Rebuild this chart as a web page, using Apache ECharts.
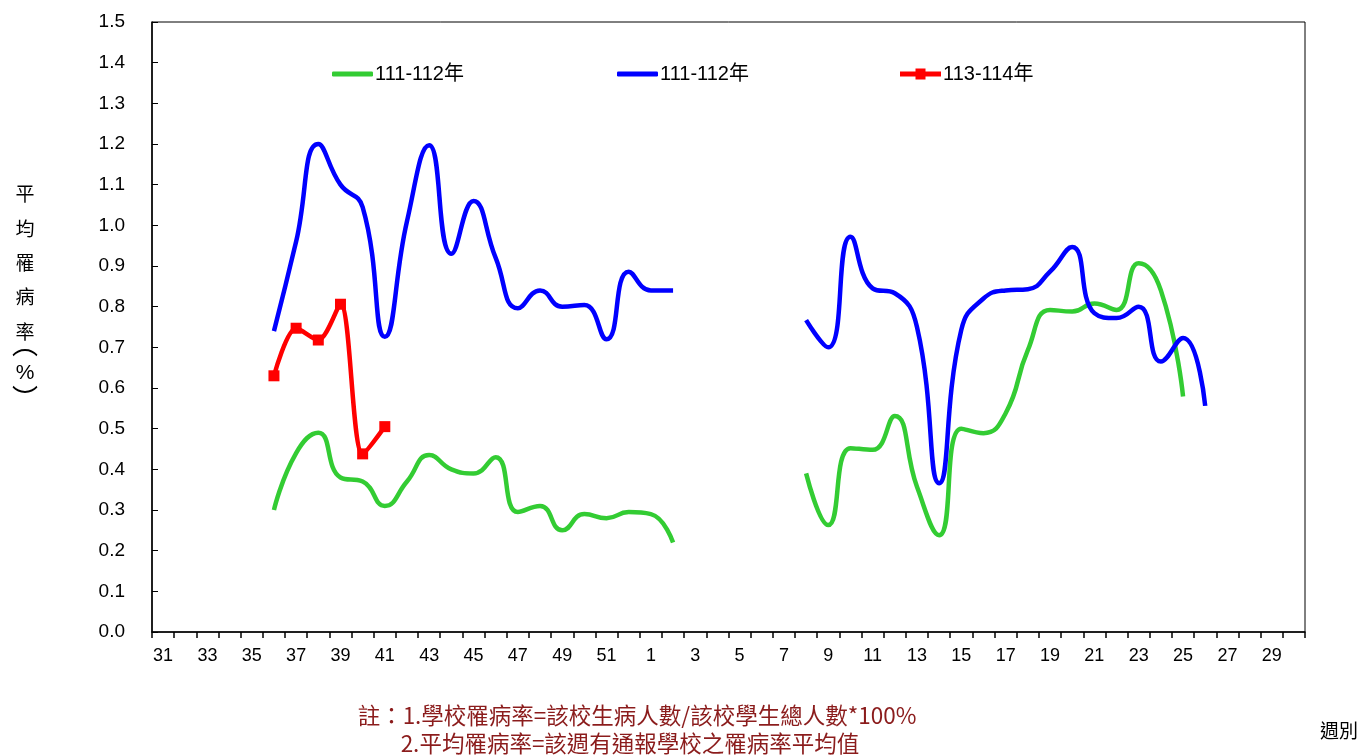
<!DOCTYPE html>
<html><head><meta charset="utf-8">
<script src="https://cdn.jsdelivr.net/npm/echarts@6/dist/echarts.min.js"></script>
<style>html,body{margin:0;padding:0;background:#fff}#c{width:1366px;height:755px}</style>
</head><body><div id="c"></div>
<script>
// week categories: 31..52 then 1..30
var weeks = [31,32,33,34,35,36,37,38,39,40,41,42,43,44,45,46,47,48,49,50,51,52,
  1,2,3,4,5,6,7,8,9,10,11,12,13,14,15,16,17,18,19,20,21,22,23,24,25,26,27,28,29,30];
var greenName = '111-112年';
var blueName = '111-112年';
var redName = '113-114年';
var greenValues = [null,null,null,null,null,
  0.30,0.44,0.49,0.38,0.37,0.31,0.37,0.435,0.40,0.39,0.43,0.295,0.31,0.25,0.29,0.28,0.295,0.29,0.22,
  null,null,null,null,null,
  0.39,0.263,0.452,0.448,0.531,0.357,0.238,0.50,0.489,0.538,0.693,0.792,0.788,0.808,0.792,0.907,0.84,0.579,
  null,null,null,null,null];
var blueValues = [null,null,null,null,null,
  0.74,0.96,1.20,1.10,1.045,0.726,1.01,1.197,0.93,1.06,0.92,0.796,0.84,0.80,0.804,0.72,0.886,0.84,0.84,
  null,null,null,null,null,
  0.767,0.70,0.972,0.845,0.833,0.75,0.366,0.743,0.82,0.84,0.843,0.886,0.947,0.784,0.772,0.80,0.665,0.723,0.556,
  null,null,null,null];
var redValues = [null,null,null,null,null,0.63,0.747,0.718,0.806,0.438,0.505];
var yTicks = [0,0.1,0.2,0.3,0.4,0.5,0.6,0.7,0.8,0.9,1.0,1.1,1.2,1.3,1.4,1.5];

var FONT = '"Liberation Sans", Arial, "Noto Sans CJK TC", sans-serif';
var CJK = '"Noto Sans CJK TC", sans-serif';
var labels = {g: greenName, b: blueName, r: redName};
function fmt(n){ return labels[n]; }
function legendAt(left, name, icon, h){
  return {show:true, left:left, top:64, padding:0, itemWidth:41, itemHeight:h, selectedMode:false,
    data:[{name:name, icon:icon}], formatter:fmt,
    textStyle:{fontFamily:FONT, fontSize:20, color:'#000', padding:[0,0,0,-3]}};
}
var redIcon = 'path://M0,3H41V8H0Z M15.5,0H25.5V11H15.5Z';
var chart = echarts.init(document.getElementById('c'));
chart.setOption({
  animation:false,
  backgroundColor:'#fff',
  grid:{left:152, top:22, right:61, bottom:123, show:true, borderColor:'#000', borderWidth:1, backgroundColor:'transparent'},
  legend:[legendAt(332,'g','roundRect',5), legendAt(617,'b','roundRect',5), legendAt(900,'r',redIcon,11)],
  xAxis:{type:'category', data:weeks, boundaryGap:true,
    axisLine:{lineStyle:{color:'#000', width:1.5}},
    axisTick:{show:true, interval:0, length:6, lineStyle:{color:'#000', width:1.5}},
    axisLabel:{interval:1, color:'#000', fontFamily:FONT, fontSize:18, margin:15},
    splitLine:{show:false}},
  yAxis:{type:'value', min:0, max:1.5, interval:0.1,
    axisLine:{show:true, lineStyle:{color:'#000', width:1.5}},
    axisTick:{show:true, inside:true, length:6, lineStyle:{color:'#000'}},
    axisLabel:{color:'#000', fontFamily:FONT, fontSize:19, margin:27,
      formatter:function(v){ return yTicks.indexOf(Math.round(v*10)/10) >= 0 ? v.toFixed(1) : ''; }},
    splitLine:{show:false}},
  series:[
    {name:'g', type:'line', data:greenValues, smooth:0.5, connectNulls:false, showSymbol:false, symbol:'none',
      lineStyle:{color:'#33CC33', width:4.5}, itemStyle:{color:'#33CC33'}},
    {name:'b', type:'line', data:blueValues, smooth:0.5, connectNulls:false, showSymbol:false, symbol:'none',
      lineStyle:{color:'#0000FF', width:4.5}, itemStyle:{color:'#0000FF'}},
    {name:'r', type:'line', data:redValues, smooth:0.3, connectNulls:false, symbol:'rect', symbolSize:11,
      lineStyle:{color:'#FF0000', width:4.5}, itemStyle:{color:'#FF0000'}}
  ],
  graphic:[
    {type:'text', x:25, y:177, style:{text:'平\n均\n罹\n病\n率', font:'19px '+CJK, lineHeight:34.3, fill:'#000', align:'center'}},
    {type:'text', x:25, y:344, style:{text:'︵', font:'26px '+CJK, fill:'#000', align:'center', verticalAlign:'middle'}},
    {type:'text', x:25, y:373, style:{text:'%', font:'21px '+FONT, fill:'#000', align:'center', verticalAlign:'middle'}},
    {type:'text', x:25, y:398, style:{text:'︶', font:'26px '+CJK, fill:'#000', align:'center', verticalAlign:'middle'}},
    {type:'text', x:1339, y:731, style:{text:'週別', font:'19px '+CJK, fill:'#000', align:'center', verticalAlign:'middle'}},
    {type:'text', x:637, y:715, style:{text:'註：1.學校罹病率=該校生病人數/該校學生總人數*100%', font:'22.5px '+CJK, fill:'#8B1C1C', align:'center', verticalAlign:'middle'}},
    {type:'text', x:630, y:743, style:{text:'2.平均罹病率=該週有通報學校之罹病率平均值', font:'22.5px '+CJK, fill:'#8B1C1C', align:'center', verticalAlign:'middle'}}
  ]
});
</script></body></html>
